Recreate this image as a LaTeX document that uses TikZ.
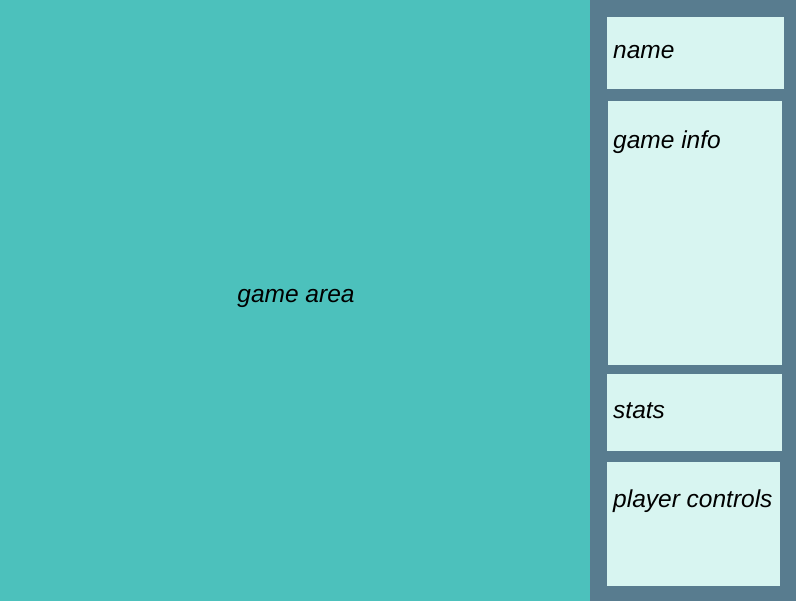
\documentclass[tikz,border=0pt]{standalone}
\usepackage{fontspec}
\setmainfont{Liberation Sans}
\definecolor{areacol}{HTML}{4CC1BC}
\definecolor{sidecol}{HTML}{587C8F}
\definecolor{panelcol}{HTML}{D8F5F1}
\begin{document}
\begin{tikzpicture}[
    x=1pt, y=-1pt,
    panel/.style={fill=panelcol, draw=none},
    lbl/.style={anchor=base west, inner sep=0pt, font=\fontsize{24.5}{26}\selectfont\itshape}
]

  % Hintergrund
  \useasboundingbox (0,0) rectangle (796,601);
  \fill[areacol] (0,0) rectangle (590,601);
  \fill[sidecol] (590,0) rectangle (796,601);

  % Felder
  \fill[panel] (607,17) rectangle (784,89);
  \fill[panel] (608,101) rectangle (782,365);
  \fill[panel] (607,374) rectangle (782,451);
  \fill[panel] (607,462) rectangle (780,586);

  % Beschriftungen
  \node[lbl, anchor=base] (area) at (296,303) {game area};
  \node[lbl] (name) at (613,59) {name};
  \node[lbl] (info) at (613,149) {game info};
  \node[lbl] (stats) at (613,419) {stats};
  \node[lbl] (controls) at (613,508) {player controls};

\end{tikzpicture}
\end{document}
